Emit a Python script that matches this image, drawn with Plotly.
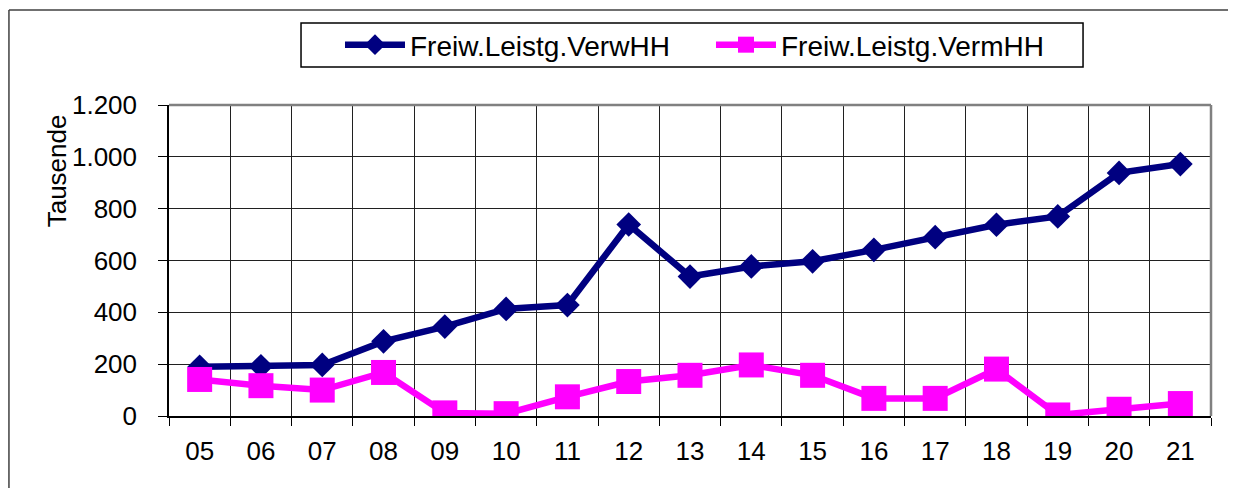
import plotly.graph_objects as go

# jahre (x-achse) und werte in tausend
jahre = ['05', '06', '07', '08', '09', '10', '11', '12', '13',
         '14', '15', '16', '17', '18', '19', '20', '21']
verw_hh = [190, 192, 197, 288, 345, 413, 428, 739, 538,
           577, 597, 641, 690, 738, 770, 938, 972]
verm_hh = [141, 117, 100, 168, 12, 9, 74, 133, 157,
           197, 157, 68, 68, 181, 4, 26, 48]

font_family = 'Liberation Sans, Arial, sans-serif'

fig = go.Figure()
fig.add_trace(go.Scatter(
    x=jahre, y=verw_hh, name='Freiw.Leistg.VerwHH', mode='lines+markers',
    line=dict(color='#000080', width=6.5),
    marker=dict(symbol='diamond', size=19, color='#000080')
))
fig.add_trace(go.Scatter(
    x=jahre, y=verm_hh, name='Freiw.Leistg.VermHH', mode='lines+markers',
    line=dict(color='#FF00FF', width=6.5),
    marker=dict(symbol='square', size=25, color='#FF00FF')
))

# page has an 8px body margin, figure is shrunk/shifted to fit the window
fig.update_layout(
    width=1228, height=480,
    margin=dict(l=161, r=25, t=97, b=72),
    paper_bgcolor='white', plot_bgcolor='white',
    separators=',.',
    font=dict(family=font_family, size=26, color='black'),
    showlegend=True,
    legend=dict(
        orientation='h', x=0.1641, y=1.193, xanchor='left', yanchor='middle',
        borderwidth=0, bgcolor='rgba(0,0,0,0)',
        font=dict(size=28), itemwidth=60, entrywidth=296,
    ),
)

fig.update_xaxes(
    type='category', tickson='boundaries', ticks='outside', ticklen=8,
    tickcolor='black', showline=True, linecolor='black', linewidth=1.5,
    showgrid=True, gridcolor='#202020', gridwidth=1, ticklabelstandoff=11,
    range=[-0.5, 16.5],
)
fig.update_yaxes(
    range=[0, 1200], dtick=200, tickformat=',d', ticks='outside', ticklen=9,
    tickcolor='black', showline=True, linecolor='black', linewidth=1.5,
    showgrid=True, gridcolor='#202020', gridwidth=1, ticklabelstandoff=16,
    zeroline=False,
)

# y-achsentitel oben links wie im original
fig.add_annotation(
    text='Tausende', textangle=-90, showarrow=False,
    xref='paper', yref='paper', x=-0.1075, y=0.79,
    xanchor='center', yanchor='middle', font=dict(size=26),
)

# grauer rahmen oben und rechts am plotbereich
fig.add_shape(type='line', xref='paper', yref='paper', x0=0, x1=1, y0=1, y1=1,
              line=dict(color='#808080', width=2.5), layer='above')
fig.add_shape(type='line', xref='paper', yref='paper', x0=1, x1=1, y0=0, y1=1,
              line=dict(color='#808080', width=2.5), layer='above')
# legendenrahmen
fig.add_shape(type='rect', xref='paper', yref='paper',
              x0=0.1267, x1=0.8772, y0=1.1222, y1=1.2637,
              line=dict(color='black', width=1.5), layer='below')
# aeusserer diagrammrahmen (nur links und oben sichtbar)
fig.add_shape(type='line', xref='paper', yref='paper',
              x0=-0.1536, x1=-0.1536, y0=-0.5, y1=1.3055,
              line=dict(color='#404040', width=1.5), layer='below')
fig.add_shape(type='line', xref='paper', yref='paper',
              x0=-0.1536, x1=1.1, y0=1.3055, y1=1.3055,
              line=dict(color='#404040', width=1.5), layer='below')

fig.write_html('out.html')
